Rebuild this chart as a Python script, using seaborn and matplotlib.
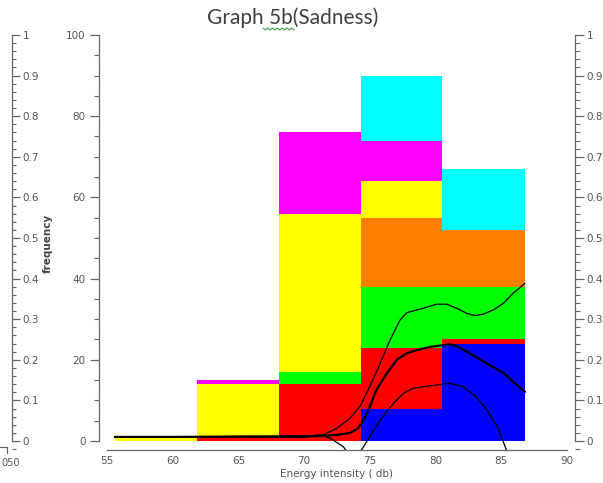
import numpy as np
import pandas as pd
import seaborn as sns
import matplotlib.pyplot as plt
from matplotlib.lines import Line2D
from matplotlib.ticker import MultipleLocator

# bins of energy intensity (db)
bin_edges = [55.6, 61.85, 68.1, 74.3, 80.5, 86.8]

# counts per bin, one list per colour (stack order bottom -> top)
blue = [0, 0, 0, 8, 24]
red = [0, 1, 14, 15, 1]
green = [0, 0, 3, 15, 13]
orange = [0, 0, 0, 17, 14]
yellow = [1, 13, 39, 9, 0]
magenta = [0, 1, 20, 10, 0]
cyan = [0, 0, 0, 16, 15]

# smoothed curves (right axis, 0..1)
mid_x = [55.6, 60, 65, 67.4, 71.2, 72.5, 73.5, 74.1, 74.6, 75.0, 75.5, 76.3, 77.05, 77.8,
         78.6, 79.6, 80.6, 81.1, 81.6, 82.6, 83.9, 85.2, 85.9, 86.8]
mid_y = [0.010, 0.010, 0.011, 0.011, 0.012, 0.015, 0.020, 0.031, 0.056, 0.085, 0.126, 0.167,
         0.200, 0.216, 0.224, 0.232, 0.236, 0.238, 0.234, 0.216, 0.191, 0.167, 0.146, 0.121]
upper_x = [55.6, 60, 65, 70, 71.46, 72.48, 73.49, 74.25, 75.0, 75.78, 76.54, 77.3, 77.8, 79.07,
           80.09, 80.85, 81.6, 82.4, 83.0, 83.6, 84.4, 85.16, 85.9, 86.8]
upper_y = [0.010, 0.010, 0.011, 0.012, 0.015, 0.031, 0.056, 0.085, 0.134, 0.191, 0.249, 0.298,
           0.316, 0.327, 0.337, 0.337, 0.327, 0.314, 0.309, 0.312, 0.323, 0.339, 0.364, 0.388]
lower_x = [55.6, 60, 65, 70, 71.2, 71.97, 72.98, 73.8, 74.6, 75.0, 75.8, 76.8, 77.55, 78.3,
           79.6, 81.1, 82.1, 83.1, 83.9, 84.7, 85.2, 85.6]
lower_y = [0.010, 0.010, 0.010, 0.009, 0.015, 0.007, -0.014, -0.05, -0.010, 0.011, 0.052, 0.093,
           0.117, 0.130, 0.136, 0.142, 0.134, 0.109, 0.076, 0.035, -0.006, -0.04]

series = ["cyan", "magenta", "yellow", "orange", "green", "red", "blue"]  # top -> bottom
counts = {"blue": blue, "red": red, "green": green, "orange": orange,
          "yellow": yellow, "magenta": magenta, "cyan": cyan}
palette = {"blue": "#0000ff", "red": "#ff0000", "green": "#00ff00", "orange": "#ff8000",
           "yellow": "#ffff00", "magenta": "#ff00ff", "cyan": "#00ffff"}

centers = [(a + b) / 2 for a, b in zip(bin_edges[:-1], bin_edges[1:])]
rows = []
for s in series:
    for c, n in zip(centers, counts[s]):
        rows.append({"energy": c, "count": n, "series": s})
df = pd.DataFrame(rows)

sns.set_style("white")
plt.rcParams["font.family"] = ["DejaVu Sans"]
axis_col = "#666666"
lab_col = "#555555"

fig = plt.figure(figsize=(6.03, 4.83), dpi=100)
W, H = 603, 483
ax = fig.add_axes([99 / W, 33 / H, 476 / W, 415 / H])
ax.patch.set_alpha(0)

sns.histplot(data=df, x="energy", weights="count", hue="series", hue_order=series,
             bins=bin_edges, multiple="stack", palette=palette, alpha=1,
             linewidth=0, edgecolor="none", legend=False, ax=ax)

ax.set_xlim(54.39, 90.61)
ax.set_ylim(-2.22, 100)
ax.set_xlabel("")
ax.set_ylabel("")
for s in ["top", "right"]:
    ax.spines[s].set_visible(False)
ax.spines["left"].set_bounds(0, 100)
ax.spines["bottom"].set_bounds(55, 90)
for s in ["left", "bottom"]:
    ax.spines[s].set_color(axis_col)
    ax.spines[s].set_linewidth(0.9)
ax.xaxis.set_major_locator(MultipleLocator(5))
ax.xaxis.set_minor_locator(MultipleLocator(1))
ax.yaxis.set_major_locator(MultipleLocator(20))
ax.yaxis.set_minor_locator(MultipleLocator(5))
ax.tick_params(axis="x", which="major", direction="in", length=4.5, width=0.9,
               color=axis_col, labelsize=7.5, labelcolor=lab_col, pad=4)
ax.tick_params(axis="x", which="minor", direction="in", length=2.5, width=0.8, color=axis_col)
ax.tick_params(axis="y", which="major", direction="out", length=6.5, width=0.9,
               color=axis_col, labelsize=7.5, labelcolor=lab_col, pad=3)
ax.tick_params(axis="y", which="minor", direction="out", length=3.5, width=0.8, color=axis_col)

# curves on the 0..1 axis
ax2 = ax.twinx()
sns.lineplot(x=upper_x, y=upper_y, color="black", linewidth=0.9, estimator=None, sort=False, ax=ax2)
sns.lineplot(x=lower_x, y=lower_y, color="black", linewidth=0.9, estimator=None, sort=False, ax=ax2)
sns.lineplot(x=mid_x, y=mid_y, color="black", linewidth=1.6, estimator=None, sort=False, ax=ax2)
ax2.set_ylim(-0.0222, 1.0)
ax2.set_xlim(54.39, 90.61)
for s in ["top", "left", "bottom"]:
    ax2.spines[s].set_visible(False)
ax2.spines["right"].set_bounds(0, 1)
ax2.spines["right"].set_color(axis_col)
ax2.spines["right"].set_linewidth(0.9)
ax2.yaxis.set_major_locator(MultipleLocator(0.1))
ax2.yaxis.set_minor_locator(MultipleLocator(0.02))
ax2.yaxis.set_major_formatter(lambda v, p: f"{v:g}")
ax2.tick_params(axis="y", which="major", direction="out", length=6.5, width=0.9,
                color=axis_col, labelsize=7.5, labelcolor=lab_col, pad=2)
ax2.tick_params(axis="y", which="minor", direction="out", length=3.5, width=0.8, color=axis_col)

# outer left axis (0..1)
ax3 = fig.add_axes([0, 33 / H, 12 / W, 415 / H])
ax3.patch.set_alpha(0)
ax3.set_ylim(-0.0222, 1.0)
for s in ["top", "left", "bottom"]:
    ax3.spines[s].set_visible(False)
ax3.spines["right"].set_bounds(0, 1)
ax3.spines["right"].set_color(axis_col)
ax3.spines["right"].set_linewidth(0.9)
ax3.set_xticks([])
ax3.yaxis.tick_right()
ax3.yaxis.set_major_locator(MultipleLocator(0.1))
ax3.yaxis.set_minor_locator(MultipleLocator(0.02))
ax3.yaxis.set_major_formatter(lambda v, p: f"{v:g}")
ax3.tick_params(axis="y", which="major", direction="out", length=5.5, width=0.9,
                color=axis_col, labelsize=7.5, labelcolor=lab_col, pad=2)
ax3.tick_params(axis="y", which="minor", direction="out", length=3, width=0.8, color=axis_col)

# texts
fig.text(293 / W, 1 - 18 / H, "Graph 5b(Sadness)", ha="center", va="center",
         fontsize=15, color="#404040", family=["Lato", "DejaVu Sans"])
squig_x = np.arange(263, 296, 2.4)
fig.add_artist(Line2D(squig_x / W, [1 - (28 + (i % 2) * 2) / H for i in range(len(squig_x))],
                      color="#40a040", linewidth=0.8))
fig.text(337 / W, 1 - 474 / H, "Energy intensity ( db)", ha="center", va="center",
         fontsize=7.5, color=lab_col)
fig.text(48 / W, 1 - 243 / H, "frequency", ha="center", va="center", rotation=90,
         fontsize=7.5, color="#444444", fontweight="bold")
fig.text(1 / W, 1 - 463 / H, "050", ha="left", va="center", fontsize=7, color=lab_col)
fig.add_artist(Line2D([0, 7 / W, 7 / W], [1 - 447 / H, 1 - 447 / H, 1 - 453 / H],
                      color=axis_col, linewidth=0.9))

fig.savefig("out.png", dpi=100)
